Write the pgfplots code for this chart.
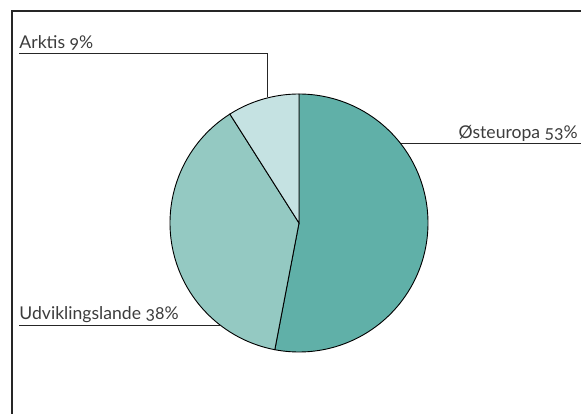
\documentclass[border=0pt]{standalone}
\usepackage{pgfplots}
\usepackage{pgfplotstable}
\pgfplotsset{compat=1.18}
\usepackage{fontspec}
\setmainfont{Lato}[Numbers=OldStyle]
\definecolor{cOst}{RGB}{96,176,168}
\definecolor{cUdv}{RGB}{148,201,194}
\definecolor{cArk}{RGB}{197,226,226}
\definecolor{txt}{RGB}{60,60,60}
\tikzset{lbl/.style={inner sep=0pt, text=txt, font=\fontsize{17.6}{20}\selectfont}}
\pgfplotstableread{
share
53
38
9
}\piedata
\begin{document}%
\begin{tikzpicture}
\pgfplotstablegetelem{0}{share}\of\piedata \let\sA\pgfplotsretval
\pgfplotstablegetelem{1}{share}\of\piedata \let\sB\pgfplotsretval
\pgfplotstablegetelem{2}{share}\of\piedata \let\sC\pgfplotsretval
\pgfmathsetmacro{\aA}{90-3.6*\sA}
\pgfmathsetmacro{\aB}{\aA-3.6*\sB}
\pgfmathsetmacro{\aC}{\aB-3.6*\sC}
\path[use as bounding box] (0,0) rectangle (581pt,414pt);
\begin{axis}[
  at={(0,0)}, anchor=south west,
  scale only axis, width=581pt, height=414pt,
  xmin=0, xmax=581, ymin=0, ymax=414, y dir=reverse,
  axis lines=none, clip=false,
]
% pie wedges
\addplot[fill=cOst, draw=black, line width=0.9pt, domain=\aA:90, samples=120, variable=\t]
  ({299+129*cos(\t)},{223-129*sin(\t)}) -- (axis cs:299,223) -- cycle;
\addplot[fill=cUdv, draw=black, line width=0.9pt, domain=\aB:\aA, samples=100, variable=\t]
  ({299+129*cos(\t)},{223-129*sin(\t)}) -- (axis cs:299,223) -- cycle;
\addplot[fill=cArk, draw=black, line width=0.9pt, domain=\aC:\aB, samples=40, variable=\t]
  ({299+129*cos(\t)},{223-129*sin(\t)}) -- (axis cs:299,223) -- cycle;
% frame
\draw[black!85, line width=1.1pt] (axis cs:12,414) -- (axis cs:12,11) -- (axis cs:581,11);
% leader lines
\draw[black!85, line width=0.8pt] (axis cs:19.3,53) -- (axis cs:267.7,53) -- (axis cs:267.7,97);
\draw[black!85, line width=0.8pt] (axis cs:401,143.3) -- (axis cs:581,143.3);
\draw[black!85, line width=0.8pt] (axis cs:19.3,325) -- (axis cs:220,325);
% labels
\node[lbl, anchor=base west] at (axis cs:19.3,48.3) {Arktis \sC\%};
\node[lbl, anchor=base east] at (axis cs:578,138.3) {Østeuropa \sA\%};
\node[lbl, anchor=base west] at (axis cs:19.3,319.3) {Udviklingslande \sB\%};
\end{axis}
\end{tikzpicture}%
\end{document}
